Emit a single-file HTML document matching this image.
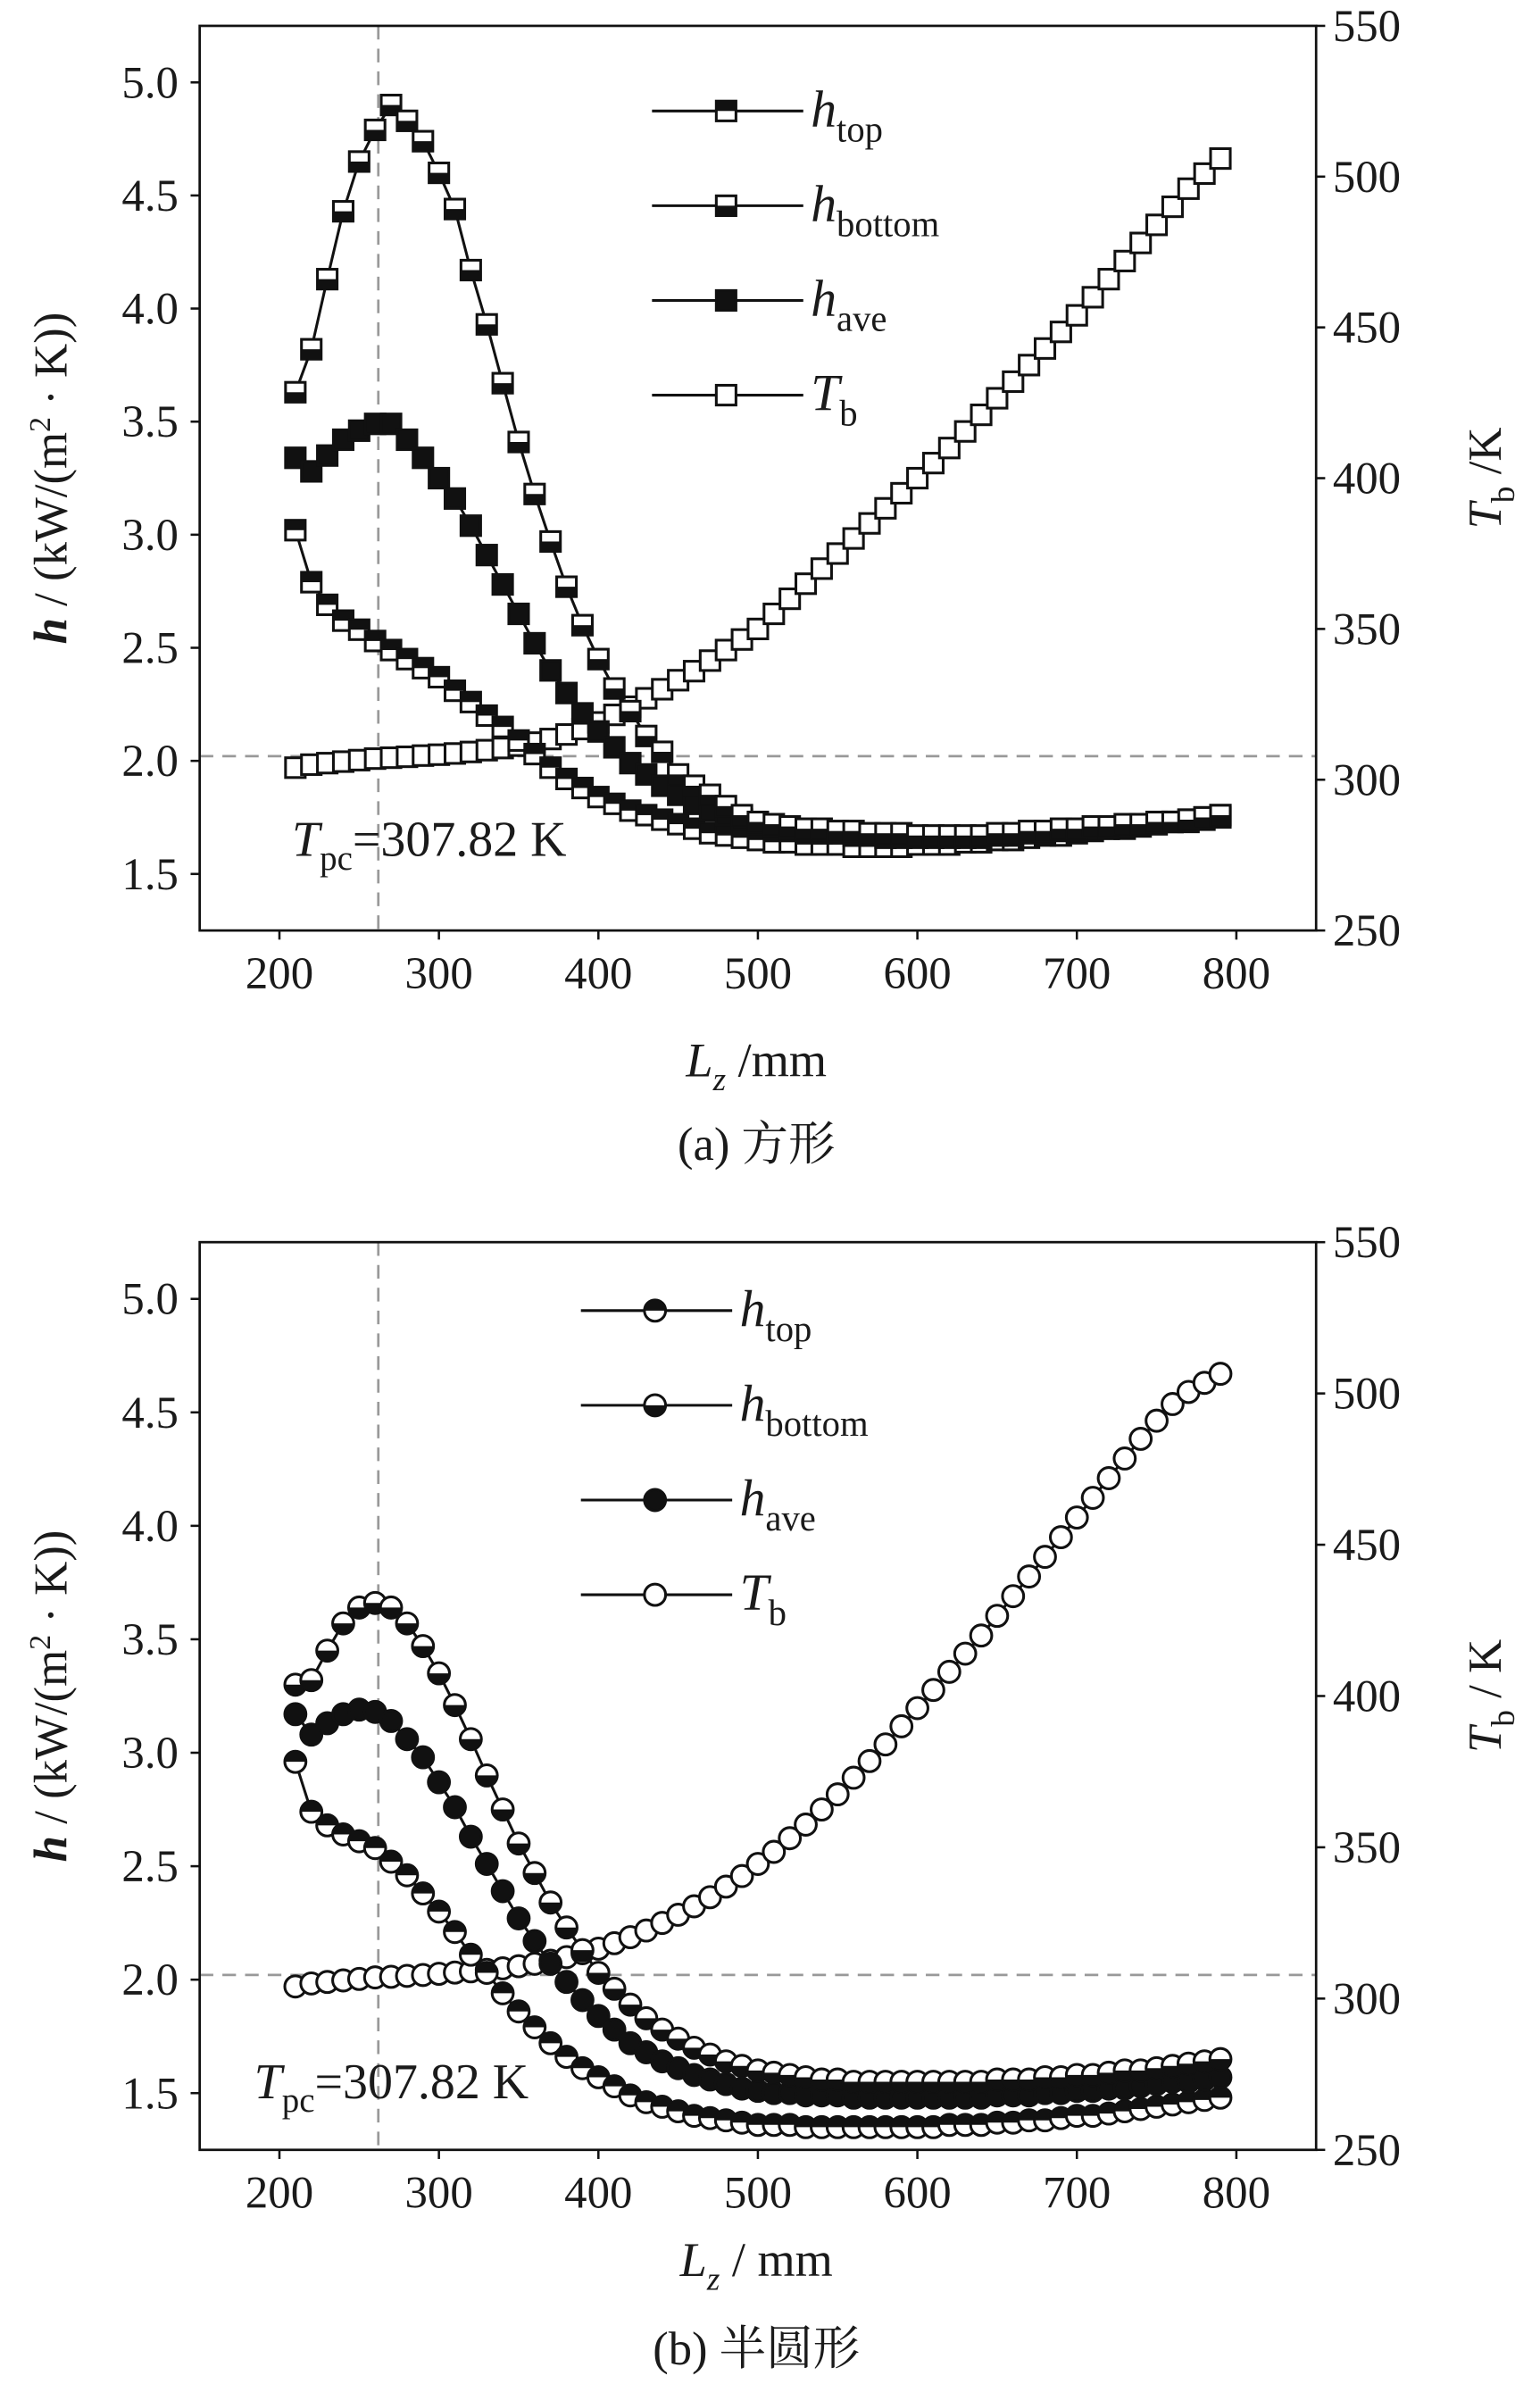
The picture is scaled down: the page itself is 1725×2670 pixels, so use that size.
<!DOCTYPE html>
<html><head><meta charset="utf-8"><style>
html,body{margin:0;padding:0;background:#fff}
svg{display:block}
text{font-family:"Liberation Serif","Noto Serif CJK SC","Noto Sans CJK SC",serif;fill:#1a1a1a}
</style></head><body>
<svg id="fig" width="1725" height="2670" viewBox="0 0 1018 1568" preserveAspectRatio="none" xmlns="http://www.w3.org/2000/svg"></svg>
<script>
const lz = [210,220,230,240,250,260,270,280,290,300,310,320,330,340,350,360,370,380,390,400,410,420,430,440,450,460,470,480,490,500,510,520,530,540,550,560,570,580,590,600,610,620,630,640,650,660,670,680,690,700,710,720,730,740,750,760,770,780,790];
const xTicks = [200,300,400,500,600,700,800];
const hTicks = [1.5,2.0,2.5,3.0,3.5,4.0,4.5,5.0];
const tTicks = [250,300,350,400,450,500,550];
const tpc = 307.82;
const lzPc = 262;
const aBottom = [3.63,3.82,4.13,4.43,4.65,4.79,4.90,4.83,4.74,4.60,4.44,4.17,3.93,3.67,3.41,3.18,2.97,2.77,2.60,2.45,2.32,2.22,2.11,2.04,1.94,1.89,1.85,1.80,1.76,1.73,1.72,1.71,1.70,1.70,1.69,1.69,1.68,1.68,1.68,1.67,1.67,1.67,1.67,1.67,1.68,1.68,1.69,1.69,1.70,1.70,1.71,1.71,1.72,1.72,1.73,1.73,1.74,1.75,1.76];
const aAve = [3.34,3.28,3.35,3.42,3.46,3.49,3.49,3.42,3.34,3.25,3.16,3.04,2.91,2.78,2.65,2.52,2.40,2.30,2.21,2.13,2.06,1.99,1.94,1.89,1.85,1.81,1.78,1.76,1.74,1.72,1.71,1.70,1.69,1.68,1.68,1.67,1.67,1.66,1.66,1.66,1.66,1.66,1.66,1.66,1.67,1.67,1.68,1.68,1.69,1.69,1.70,1.70,1.71,1.72,1.72,1.73,1.74,1.75,1.76];
const aTop = [3.02,2.79,2.69,2.62,2.58,2.53,2.49,2.45,2.41,2.37,2.31,2.26,2.20,2.15,2.09,2.03,1.97,1.92,1.88,1.84,1.81,1.78,1.76,1.74,1.72,1.70,1.68,1.67,1.66,1.65,1.64,1.64,1.63,1.63,1.63,1.62,1.62,1.62,1.62,1.63,1.63,1.63,1.64,1.64,1.65,1.65,1.66,1.67,1.67,1.68,1.69,1.70,1.70,1.71,1.72,1.73,1.73,1.74,1.75];
const aTb = [304,305,305.5,306,306.5,307,307.3,307.6,308,308.3,308.7,309.2,309.8,310.5,311.3,312.3,313.5,315,316.8,319,321.5,324.2,327,330,333,336,339.5,343,346.5,350,355,360,365,370,375,380,385,390,395,400,405,410,415.5,421,426.5,432,437.5,443,448.5,454,460,466,472,478,484,490,496,501,506];
const bBottom = [3.30,3.32,3.45,3.57,3.64,3.66,3.64,3.57,3.47,3.35,3.21,3.06,2.90,2.75,2.60,2.47,2.34,2.23,2.13,2.03,1.96,1.89,1.83,1.78,1.74,1.70,1.67,1.64,1.62,1.60,1.59,1.58,1.57,1.56,1.56,1.55,1.55,1.55,1.55,1.55,1.55,1.55,1.55,1.55,1.56,1.56,1.56,1.57,1.57,1.58,1.58,1.59,1.60,1.60,1.61,1.62,1.63,1.64,1.65];
const bAve = [3.17,3.08,3.13,3.17,3.19,3.18,3.14,3.06,2.98,2.87,2.76,2.63,2.51,2.39,2.27,2.17,2.07,1.99,1.91,1.84,1.78,1.72,1.68,1.64,1.61,1.58,1.56,1.54,1.52,1.51,1.50,1.50,1.49,1.49,1.49,1.48,1.48,1.48,1.48,1.48,1.48,1.48,1.48,1.48,1.49,1.49,1.49,1.50,1.50,1.51,1.51,1.52,1.52,1.53,1.54,1.55,1.55,1.56,1.57];
const bTop = [2.96,2.74,2.68,2.64,2.61,2.58,2.52,2.46,2.38,2.30,2.21,2.11,2.03,1.94,1.86,1.79,1.72,1.66,1.61,1.57,1.53,1.49,1.46,1.44,1.42,1.40,1.39,1.38,1.37,1.36,1.36,1.36,1.35,1.35,1.35,1.35,1.35,1.35,1.35,1.35,1.35,1.36,1.36,1.36,1.37,1.37,1.38,1.38,1.39,1.40,1.40,1.41,1.42,1.43,1.44,1.45,1.46,1.47,1.48];
const bTb = [304,305,305.5,306,306.5,307,307.2,307.5,307.8,308.2,308.6,309,309.5,310,310.7,311.5,312.5,313.7,315,316.5,318.3,320.3,322.5,325,327.7,330.5,333.5,337,340.5,344.5,348.5,353,357.5,362.5,367.5,373,378.5,384,390,396,402,408,414,420,426.5,433,439.5,446,452.5,459,465.5,472,478.5,485,491,496.5,500.5,503.5,506.5];

const NS = "http://www.w3.org/2000/svg";
const svg = document.getElementById('fig');
function mk(tag, attrs, parent){
  const e = document.createElementNS(NS, tag);
  for (const k in attrs) e.setAttribute(k, attrs[k]);
  (parent||svg).appendChild(e);
  return e;
}
function marker(g, x, y, style, shape){
  const c = 7;
  if (shape==='sq'){
    const s = 6.5;
    mk('rect',{x:x-s,y:y-s,width:2*s,height:2*s,fill:style==='full'?'#111':'#fff',stroke:'#111','stroke-width':1.8},g);
    if (style==='top') mk('rect',{x:x-s,y:y-s,width:2*s,height:s,fill:'#111'},g);
    if (style==='bottom') mk('rect',{x:x-s,y:y,width:2*s,height:s,fill:'#111'},g);
  } else {
    mk('circle',{cx:x,cy:y,r:c,fill:style==='full'?'#111':'#fff',stroke:'#111','stroke-width':1.8},g);
    if (style==='top') mk('path',{d:`M${x-c},${y} A${c},${c} 0 0 1 ${x+c},${y} Z`,fill:'#111'},g);
    if (style==='bottom') mk('path',{d:`M${x-c},${y} A${c},${c} 0 0 0 ${x+c},${y} Z`,fill:'#111'},g);
  }
}
function panel(cfg){
  const L=132, R=870, T=cfg.y0, B=cfg.y1;
  const g = mk('g', {});
  
  
  const xs = v => L + (v-150)/700*(R-L);
  const yh = v => B - (v-1.25)/4*(B-T);
  const yt = v => B - (v-250)/300*(B-T);
  const dv = mk('line', {x1:xs(lzPc),x2:xs(lzPc),y1:T,y2:B,stroke:'#999','stroke-width':1.6,'stroke-dasharray':'9 6'}, g);
  
  
  const dh = mk('line', {x1:L,x2:R,y1:yt(tpc),y2:yt(tpc),stroke:'#999','stroke-width':1.6,'stroke-dasharray':'9 6'}, g);
  
  
  const fr = mk('rect', {x:L,y:T,width:R-L,height:B-T,fill:'none',stroke:'#111','stroke-width':1.6}, g);
  
  
  xTicks.forEach(v=>{
    mk('line',{x1:xs(v),x2:xs(v),y1:B,y2:B+6,stroke:'#111','stroke-width':1.5},g);
    const t = mk('text',{x:xs(v),y:B+38,'font-size':30,'text-anchor':'middle'},g);
    t.textContent = v;
    
    
  });
  hTicks.forEach(v=>{
    mk('line',{x1:L-6,x2:L,y1:yh(v),y2:yh(v),stroke:'#111','stroke-width':1.5},g);
    const t = mk('text',{x:L-14,y:yh(v)+10,'font-size':30,'text-anchor':'end'},g);
    t.textContent = v.toFixed(1);
    
    
  });
  tTicks.forEach(v=>{
    mk('line',{x1:R,x2:R+6,y1:yt(v),y2:yt(v),stroke:'#111','stroke-width':1.5},g);
    const t = mk('text',{x:R+11,y:yt(v)+10,'font-size':30,'text-anchor':'start'},g);
    t.textContent = v;
    
    
  });
  const series = [
    {vals:cfg.tb, y:yt, style:'open', name:'series-tb'},
    {vals:cfg.hTop, y:yh, style:'top', name:'series-h-top'},
    {vals:cfg.hAve, y:yh, style:'full', name:'series-h-ave'},
    {vals:cfg.hBottom, y:yh, style:'bottom', name:'series-h-bottom'}
  ];
  series.forEach(s=>{
    const sg = mk('g',{},g);
    
    
    const pts = lz.map((x,i)=>xs(x).toFixed(1)+','+s.y(s.vals[i]).toFixed(1)).join(' ');
    mk('polyline',{points:pts,fill:'none',stroke:'#111','stroke-width':1.8},sg);
    lz.forEach((x,i)=>marker(sg, xs(x), s.y(s.vals[i]), s.style, cfg.shape));
  });
  const names = [['h','top','top'],['h','bottom','bottom'],['h','ave','full'],['T','b','open']];
  names.forEach((n,i)=>{
    const ly = cfg.legY + i*62.3;
    const lg = mk('g',{},g);
    
    
    mk('line',{x1:cfg.legX,x2:cfg.legX+100,y1:ly,y2:ly,stroke:'#111','stroke-width':1.8},lg);
    marker(lg, cfg.legX+49, ly, n[2], cfg.shape);
    const t = mk('text',{x:cfg.legX+105,y:ly+10,'font-size':34,'font-style':'italic'},lg);
    t.textContent = n[0];
    const s = mk('tspan',{'font-size':24,'font-style':'normal',dy:10},t);
    s.textContent = n[1];
  });
  const tp = mk('text',{x:cfg.tpcX,y:cfg.tpcY,'font-size':33},g);
  
  
  const ti = mk('tspan',{'font-style':'italic'},tp); ti.textContent='T';
  const ts = mk('tspan',{'font-size':23,dy:9},tp); ts.textContent='pc';
  const tr = mk('tspan',{dy:-9},tp); tr.textContent='=307.82 K';
  const yl = mk('text',{transform:`translate(44,${(T+B)/2}) rotate(-90)`,'font-size':31,'text-anchor':'middle'},g);
  
  
  const yi = mk('tspan',{'font-style':'italic','font-weight':'bold'},yl); yi.textContent='h';
  const yr = mk('tspan',{},yl); yr.textContent=' / (kW/(m';
  const ys = mk('tspan',{'font-size':20,dy:-11},yl); ys.textContent='2';
  const yr2 = mk('tspan',{dy:11},yl); yr2.textContent=' · K))';
  const rl = mk('text',{transform:`translate(992,${(T+B)/2}) rotate(-90)`,'font-size':31,'text-anchor':'middle'},g);
  
  
  const ri = mk('tspan',{'font-style':'italic'},rl); ri.textContent='T';
  const rs = mk('tspan',{'font-size':22,dy:9},rl); rs.textContent='b';
  const rr = mk('tspan',{dy:-9},rl); rr.textContent=cfg.rUnit;
  const xl = mk('text',{x:500,y:cfg.xTitleY,'font-size':32,'text-anchor':'middle'},g);
  
  
  const xi = mk('tspan',{'font-style':'italic'},xl); xi.textContent='L';
  const xz = mk('tspan',{'font-style':'italic','font-size':22,dy:9},xl); xz.textContent='z';
  const xr = mk('tspan',{dy:-9},xl); xr.textContent=cfg.xUnit;
  const cap = mk('text',{x:500,y:cfg.capY,'font-size':31,'text-anchor':'middle'},g);
  
  
  cap.textContent = cfg.caption;
}
panel({name:'panel-a-square', y0:17, y1:612, shape:'sq', tb:aTb, hTop:aTop, hAve:aAve, hBottom:aBottom,
  legX:431, legY:73, tpcX:193, tpcY:563, xTitleY:708, capY:763, caption:'(a) 方形', rUnit:' /K', xUnit:' /mm'});
panel({name:'panel-b-semicircle', y0:817, y1:1414, shape:'ci', tb:bTb, hTop:bTop, hAve:bAve, hBottom:bBottom,
  legX:384, legY:862, tpcX:168, tpcY:1380, xTitleY:1497, capY:1555, caption:'(b) 半圆形', rUnit:' / K', xUnit:' / mm'});
</script>
</body></html>
